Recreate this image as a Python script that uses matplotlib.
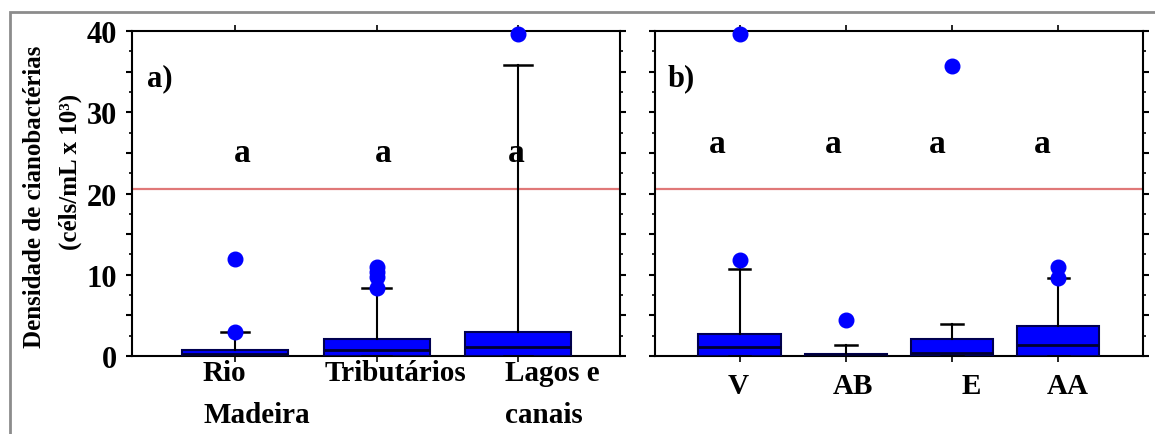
import matplotlib
matplotlib.use("Agg")
import matplotlib.pyplot as plt
from matplotlib.ticker import MultipleLocator, FuncFormatter
from matplotlib.patches import Rectangle

# panel a) - by environment
cats_a = ["Rio\nMadeira", "Tributários", "Lagos e\ncanais"]
q1_a = [0.0, 0.0, 0.0]
med_a = [0.2, 0.7, 1.1]
q3_a = [0.7, 2.1, 3.0]
whislo_a = [0.0, 0.0, 0.0]
whishi_a = [3.0, 8.4, 35.8]
fliers_a = [[3.0, 11.9], [8.4, 9.7, 10.4, 10.9], [39.6]]
letters_a = ["a", "a", "a"]

# panel b) - by hydrological period
cats_b = ["V", "AB", "E", "AA"]
q1_b = [0.0, 0.0, 0.0, 0.0]
med_b = [1.1, 0.1, 0.4, 1.3]
q3_b = [2.7, 0.2, 2.1, 3.7]
whislo_b = [0.0, 0.0, 0.0, 0.0]
whishi_b = [10.7, 1.3, 3.9, 9.6]
fliers_b = [[11.8, 39.6], [4.4], [35.7], [9.6, 10.9]]
letters_b = ["a", "a", "a", "a"]

limit = 20.55  # red reference line

FONT = "Liberation Serif"
BLUE = "#0000ff"


def makeStats(q1, med, q3, lo, hi, fl):
    stats = []
    for i in range(len(q1)):
        stats.append({"q1": q1[i], "med": med[i], "q3": q3[i],
                      "whislo": lo[i], "whishi": hi[i], "fliers": fl[i]})
    return stats


def drawPanel(ax, stats, cats, letters, boxw, xlim, lblHa, lblDx, lblDy, letDx, letY, tag, tagX):
    pos = list(range(1, len(cats) + 1))
    ax.bxp(stats, positions=pos, widths=boxw, capwidths=0.2, patch_artist=True,
           boxprops=dict(facecolor=BLUE, edgecolor="#000050", linewidth=1.5),
           medianprops=dict(color="#000030", linewidth=2),
           whiskerprops=dict(color="black", linewidth=1.5),
           capprops=dict(color="black", linewidth=1.8),
           flierprops=dict(marker="o", markerfacecolor=BLUE, markeredgecolor=BLUE,
                           markersize=10.5, clip_on=False),
           zorder=3)
    ax.axhline(limit, color="#e07878", linewidth=1.6, zorder=2)
    ax.set_xlim(xlim)
    ax.set_ylim(0, 40)
    ax.set_xticks(pos)
    ax.set_xticklabels([])
    # category labels drawn below the axis, shifted like in the original figure
    for x, c, ha, dx in zip(pos, cats, lblHa, lblDx):
        ax.annotate(c, (x, 0), xytext=(dx, -lblDy), textcoords="offset pixels",
                    ha=ha, va="top", fontsize=21, fontweight="bold", family=FONT,
                    linespacing=1.7, multialignment="left", annotation_clip=False)
    ax.tick_params(axis="x", direction="out", length=4, width=1.2, top=True)
    ax.yaxis.set_major_locator(MultipleLocator(5))
    ax.yaxis.set_minor_locator(MultipleLocator(2.5))
    ax.tick_params(axis="y", which="major", direction="out", length=4, width=1.5, right=True)
    ax.tick_params(axis="y", which="minor", direction="out", length=2, width=1.2, right=True)
    for sp in ax.spines.values():
        sp.set_linewidth(1.5)
    for x, t, dx in zip(pos, letters, letDx):
        ax.annotate(t, (x, letY), xytext=(dx, 0), textcoords="offset pixels",
                    ha="center", va="center", fontsize=24, fontweight="bold", family=FONT)
    ax.text(tagX, 0.855, tag, transform=ax.transAxes, fontsize=22, fontweight="bold",
            family=FONT, va="center")


def main():
    fig = plt.figure(figsize=(11.55, 4.35), dpi=100)
    fig.patches.append(Rectangle((10 / 1155, -0.1), 1.1, 1.1 - 12.5 / 435,
                                 transform=fig.transFigure, fill=False,
                                 edgecolor="#8c8c8c", linewidth=2))

    axA = fig.add_axes([0.1143, 0.1793, 0.4225, 0.7471])
    axB = fig.add_axes([0.5671, 0.1793, 0.4225, 0.7471])

    drawPanel(axA, makeStats(q1_a, med_a, q3_a, whislo_a, whishi_a, fliers_a),
              cats_a, letters_a, 0.75, (0.272, 3.72), ["left", "center", "left"],
              [-32, 19, -13], 3, [7, 7, -2], 25.1, "a)", 0.03)
    drawPanel(axB, makeStats(q1_b, med_b, q3_b, whislo_b, whishi_b, fliers_b),
              cats_b, letters_b, 0.78, (0.2, 4.8), ["center"] * 4,
              [-2, 7, 19, 10], 16, [-23, -13, -15, -16], 26.1, "b)", 0.025)

    axA.yaxis.set_major_formatter(FuncFormatter(lambda v, p: "%d" % v if v % 10 == 0 else ""))
    for lab in axA.get_yticklabels():
        lab.set_fontsize(22)
        lab.set_fontweight("bold")
        lab.set_family(FONT)
    axA.tick_params(axis="y", which="major", pad=7)
    axB.tick_params(axis="y", labelleft=False)

    fig.text(35 / 1155, 1 - 197 / 435, "Densidade de cianobactérias", rotation=90,
             ha="center", va="center", fontsize=18, fontweight="bold", family=FONT)
    fig.text(70 / 1155, 1 - 172 / 435, "(céls/mL x 10³)", rotation=90,
             ha="center", va="center", fontsize=18, fontweight="bold", family=FONT)

    fig.savefig("out.png", dpi=100)


if __name__ == "__main__":
    main()
